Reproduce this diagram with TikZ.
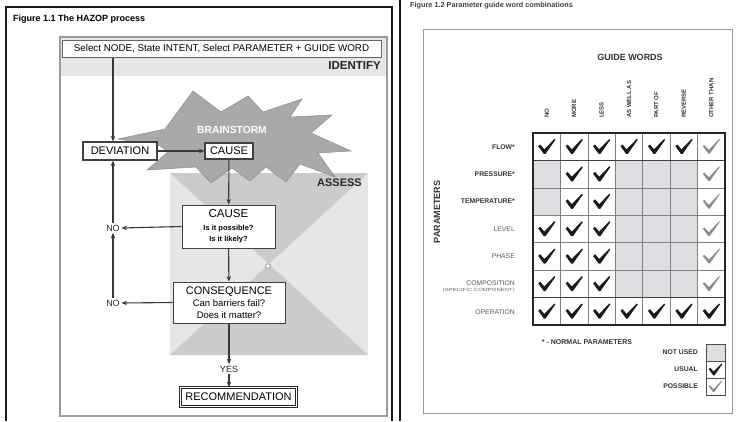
\documentclass[tikz,border=0pt]{standalone}
\usepackage{fontspec}
\setmainfont{Liberation Sans}
\usetikzlibrary{arrows.meta}
\definecolor{idband}{HTML}{E6E6E6}
\definecolor{aslight}{HTML}{E6E6E6}
\definecolor{asdark}{HTML}{CBCBCB}
\definecolor{storm}{HTML}{A9A9A9}
\definecolor{notused}{HTML}{DCDEE2}
\definecolor{possible}{HTML}{8C8C8C}
\definecolor{framegrey}{HTML}{9C9C9C}
\newcommand{\fs}[1]{\fontsize{#1}{#1}\selectfont}
\begin{document}
\begin{tikzpicture}[x=1pt,y=-1pt,
  conn/.style={draw=black!78, line width=1.1pt, -{Stealth[length=5.5pt,width=4.5pt]}},
  fbox/.style={draw=black!75, line width=1pt, fill=white, inner sep=0pt, align=center},
  lbl/.style={inner sep=1.5pt, font=\fs{9}, text=black!85},
  hdr/.style={inner sep=0pt, font=\bfseries\fs{6}, text=black!80},
  rowb/.style={inner sep=0pt, anchor=east, font=\bfseries\fs{6.8}, text=black!80},
  rowr/.style={inner sep=0pt, anchor=east, font=\fs{6.8}, text=black!65},
  usual/.pic={\fill[black!90] (-8.5,-0.5) -- (-6.5,-2.2) -- (-2.4,2.6) -- (7.8,-7.8) -- (8.7,-6.9) -- (-1.2,7.2) -- (-2.9,7.2) -- cycle;},
  maybe/.pic={\fill[possible] (-8.5,-0.5) -- (-7.0,-1.6) -- (-2.4,3.2) -- (7.9,-7.8) -- (8.5,-7.2) -- (-1.5,7.0) -- (-2.9,7.0) -- cycle;}
]
\useasboundingbox (0,0) rectangle (736,421);
\fill[white] (0,0) rectangle (736,421);

% ---------------- Figure 1.1 ----------------
\draw[line width=2.4pt, black!90] (6,421) -- (6,7) -- (392,7) -- (392,421);
\draw[line width=2.4pt, black!90] (400,0) -- (400,421);
\node[inner sep=0pt, anchor=west, font=\bfseries\fs{9}] (t1) at (13,19) {Figure 1.1 The HAZOP process};

% identify band and outer process box
\fill[idband] (60,37) rectangle (387,76);
\draw[framegrey, line width=1.1pt] (60,37) rectangle (387,416);
\node[inner sep=0pt, anchor=east, font=\bfseries\fs{11.5}, text=black!85] (ident) at (381,66) {IDENTIFY};

% assess region with its crossed shading
\fill[aslight] (170,173) rectangle (368,355);
\fill[asdark] (170,173) -- (368,173) -- (269,264) -- cycle;
\fill[asdark] (170,355) -- (368,355) -- (269,264) -- cycle;
\draw[black!45, line width=0.6pt, fill=white] (268,266) circle (2.3);
\node[inner sep=0pt, anchor=east, font=\bfseries\fs{11}, text=black!85] (assess) at (362,183) {ASSESS};

% brainstorm burst
\filldraw[fill=storm, draw=black!45, line width=0.5pt]
  (118,139) -- (165,129) -- (193,91) -- (221,112) -- (248,96) -- (263,112)
  -- (302,99) -- (290,117) -- (332,115) -- (311,133) -- (351,151)
  -- (318,153) -- (335,177) -- (300,164) -- (286,182) -- (266,167)
  -- (250,181) -- (232,168) -- (211,183) -- (196,167) -- (147,170)
  -- (168,152) -- (160,146) -- cycle;
\node[inner sep=0pt, font=\bfseries\fs{10.3}, text=white] (storm) at (232,130) {BRAINSTORM};

% process boxes
\node[fbox, draw=black!60, minimum width=319pt, minimum height=17pt, font=\fs{9.8}] (sel) at (221.5,48.5)
  {Select NODE, State INTENT, Select PARAMETER + GUIDE WORD};
\node[fbox, line width=1.2pt, minimum width=74pt, minimum height=18pt, font=\fs{11}] (dev) at (120,151) {DEVIATION};
\node[fbox, line width=1.2pt, minimum width=48pt, minimum height=16pt, font=\fs{11}] (cause1) at (229,151) {CAUSE};
\node[fbox, minimum width=93pt, minimum height=43pt] (cause2) at (228.5,226.5)
  {{\fs{11.5}CAUSE}\\[1.5pt]{\bfseries\fs{7.5}Is it possible?}\\[-1pt]{\bfseries\fs{7.5}Is it likely?}};
\node[fbox, minimum width=112pt, minimum height=41pt] (cons) at (229,302.5)
  {{\fs{11}CONSEQUENCE}\\[0.5pt]{\fs{9.5}Can barriers fail?}\\[0pt]{\fs{9.5}Does it matter?}};
\node[fbox, draw=black!85, line width=0.8pt, double=white, double distance=0.6pt,
  minimum width=116pt, minimum height=19pt, font=\fs{11}] (rec) at (238.5,397) {RECOMMENDATION};

\node[lbl] (no1) at (113,228) {NO};
\node[lbl] (no2) at (113,303) {NO};
\node[lbl] (yes) at (229,369) {YES};

% connectors
\draw[conn] (sel.south -| no1) -- (no1 |- dev.north);
\draw[conn] (dev) -- (cause1);
\draw[conn] (cause1) -- (cause2);
\draw[conn] (cause2) -- (cons);
\draw[conn] (cons) -- (yes);
\draw[conn] (yes) -- (yes |- rec.north);
\draw[conn] (cause2.west) -- (no1.east);
\draw[conn] (cons.west) -- (no2.east);
\draw[conn] (no1.north) -- (no1 |- dev.south);
\draw[conn] (no2.north) -- (no1.south);

% ---------------- Figure 1.2 ----------------
\node[inner sep=0pt, anchor=west, font=\bfseries\fs{7.3}, text=black!75] (t2) at (410,6) {Figure 1.2 Parameter guide word combinations};
\draw[black!40, line width=0.9pt] (423,29) rectangle (732,413);

\node[inner sep=0pt, font=\bfseries\fs{9}, text=black!80] (gw) at (630,57) {GUIDE WORDS};
\node[inner sep=0pt, font=\bfseries\fs{9}, text=black!80, rotate=90] (par) at (437,212) {PARAMETERS};

\foreach \t [count=\i from 0] in {NO,MORE,LESS,AS WELL AS,PART OF,REVERSE,OTHER THAN}
  \node[hdr, rotate=90, anchor=west] (h\i) at ({546.7+27.43*\i},118) {\t};

% not used cells
\foreach \r in {1,2} \foreach \c in {0,3,4,5}
  \fill[notused] ({533+27.43*\c},{133+27.43*\r}) rectangle ++(27.43,27.43);
\foreach \r in {3,4,5} \foreach \c in {3,4,5}
  \fill[notused] ({533+27.43*\c},{133+27.43*\r}) rectangle ++(27.43,27.43);

% grid
\foreach \i in {1,...,6} {
  \draw[black!50, line width=0.6pt] ({533+27.43*\i},133) -- ({533+27.43*\i},325);
  \draw[black!50, line width=0.6pt] (533,{133+27.43*\i}) -- (725,{133+27.43*\i});
}
\draw[black!75, line width=0.9pt] (533,160.43) -- (725,160.43);
\draw[black!75, line width=0.9pt] (533,297.57) -- (725,297.57);
\draw[black!85, line width=1.5pt] (533,133) rectangle (725,325);

% check marks
\foreach \c in {0,...,5} \pic at ({546.7+27.43*\c},146.7) {usual};
\foreach \r in {1,2} \foreach \c in {1,2} \pic at ({546.7+27.43*\c},{146.7+27.43*\r}) {usual};
\foreach \r in {3,4,5} \foreach \c in {0,1,2} \pic at ({546.7+27.43*\c},{146.7+27.43*\r}) {usual};
\foreach \c in {0,...,6} \pic at ({546.7+27.43*\c},311.3) {usual};
\foreach \r in {0,...,5} \pic at (711.3,{146.7+27.43*\r}) {maybe};

% parameter labels
\node[rowb] (p1) at (515,147) {FLOW*};
\node[rowb] (p2) at (515,174) {PRESSURE*};
\node[rowb] (p3) at (515,201.5) {TEMPERATURE*};
\node[rowr] (p4) at (515,229) {LEVEL};
\node[rowr] (p5) at (515,256.5) {PHASE};
\node[rowr] (p6) at (515,283) {COMPOSITION};
\node[inner sep=0pt, anchor=east, text=black!60] (p6s) at (515,290.5) {\resizebox{72pt}{3.2pt}{(SPECIFIC COMPONENT)}};
\node[rowr] (p7) at (515,312) {OPERATION};

\node[inner sep=0pt, font=\bfseries\fs{7}, text=black!80] (note) at (587,342) {* - NORMAL PARAMETERS};

% legend
\fill[notused] (706,344) rectangle (725,361);
\draw[black!70, line width=0.8pt] (706,344) rectangle (725,395);
\draw[black!70, line width=0.8pt] (706,361) -- (725,361);
\draw[black!70, line width=0.8pt] (706,378) -- (725,378);
\pic[scale=0.8] at (715.5,369.5) {usual};
\pic[scale=0.8] at (715.5,386.5) {maybe};
\node[rowb] (k1) at (698,352.5) {NOT USED};
\node[rowb] (k2) at (698,369.5) {USUAL};
\node[rowb] (k3) at (698,386.5) {POSSIBLE};
\end{tikzpicture}
\end{document}
